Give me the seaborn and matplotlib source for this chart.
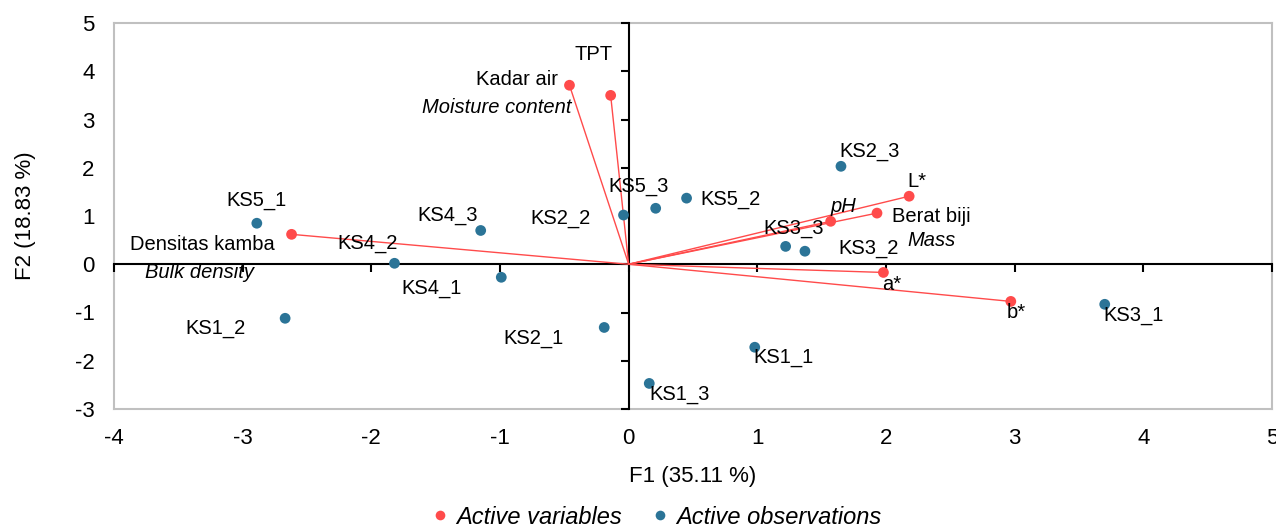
import matplotlib
matplotlib.use("Agg")
import matplotlib.pyplot as plt
import seaborn as sns
import pandas as pd

# Variables (vectors)
var_names = ["Kadar air", "TPT", "Densitas kamba", "pH", "L*", "Berat biji", "a*", "b*"]
var_f1 = [-0.46, -0.14, -2.62, 1.57, 2.18, 1.93, 1.98, 2.97]
var_f2 = [3.71, 3.50, 0.62, 0.89, 1.41, 1.06, -0.17, -0.77]

# Observations
obs_names = ["KS5_1", "KS4_2", "KS4_3", "KS4_1", "KS1_2", "KS2_2", "KS5_3", "KS5_2",
             "KS2_1", "KS1_3", "KS1_1", "KS3_3", "KS3_2", "KS2_3", "KS3_1"]
obs_f1 = [-2.89, -1.82, -1.15, -0.99, -2.67, -0.04, 0.21, 0.45,
          -0.19, 0.16, 0.98, 1.22, 1.37, 1.65, 3.70]
obs_f2 = [0.85, 0.02, 0.70, -0.27, -1.12, 1.02, 1.16, 1.37,
          -1.31, -2.47, -1.72, 0.37, 0.27, 2.03, -0.83]

# English subtitles (italic) for some variables
var_sub = {"Kadar air": "Moisture content", "Densitas kamba": "Bulk density",
           "Berat biji": "Mass"}

RED = "#FF4B4B"
BLUE = "#2B7497"

df_var = pd.DataFrame({"F1": var_f1, "F2": var_f2, "name": var_names,
                       "kind": "Active variables"})
df_obs = pd.DataFrame({"F1": obs_f1, "F2": obs_f2, "name": obs_names,
                       "kind": "Active observations"})
df = pd.concat([df_var, df_obs], ignore_index=True)

sns.set_theme(style="white")
plt.rcParams["font.family"] = ["Liberation Sans", "DejaVu Sans"]
plt.rcParams["axes.unicode_minus"] = False
plt.rcParams["text.color"] = "black"
plt.rcParams["axes.labelcolor"] = "black"

fig = plt.figure(figsize=(12.76, 5.29), dpi=100)
rect = [114 / 1276, 1 - 409 / 529, (1272 - 114) / 1276, (409 - 23) / 529]

# outer frame with tick labels
ax = fig.add_axes(rect)
ax.set_xlim(-4, 5)
ax.set_ylim(-3, 5)
ax.set_xticks(range(-4, 6))
ax.set_yticks(range(-3, 6))
ax.tick_params(length=0, labelsize=16, colors="black", pad=14)
ax.tick_params(axis="y", pad=14)
for s in ax.spines.values():
    s.set_color("#C0C0C0")
    s.set_linewidth(1.5)
ax.set_xlabel("F1 (35.11 %)", fontsize=16, labelpad=12)
ax.set_ylabel("F2 (18.83 %)", fontsize=16, labelpad=28)

# inner axes crossing at the origin
ax2 = fig.add_axes(rect, sharex=ax, sharey=ax)
ax2.patch.set_alpha(0)
ax2.spines["left"].set_position(("data", 0))
ax2.spines["bottom"].set_position(("data", 0))
ax2.spines["top"].set_visible(False)
ax2.spines["right"].set_visible(False)
for side in ["left", "bottom"]:
    ax2.spines[side].set_color("black")
    ax2.spines[side].set_linewidth(1.5)
ax2.tick_params(direction="out", length=6, width=1.5, colors="black",
                labelleft=False, labelbottom=False, left=True, bottom=True)

# vectors from origin
for x, y in zip(var_f1, var_f2):
    ax2.plot([0, x], [0, y], color=RED, lw=1, zorder=3)

sns.scatterplot(data=df, x="F1", y="F2", hue="kind", ax=ax2,
                palette={"Active variables": RED, "Active observations": BLUE},
                s=60, edgecolor="none", zorder=4, legend=True)
ax2.set_xlabel("")
ax2.set_ylabel("")

# label offsets in pixels (dx, dy, ha)
lab_off = {
    "Kadar air": (-11, 6, "right"), "TPT": (-17, 41, "center"),
    "Densitas kamba": (-89, -10, "center"), "pH": (13, 15, "center"),
    "L*": (8, 15, "center"), "Berat biji": (15, -3, "left"),
    "a*": (8, -12, "center"), "b*": (5, -11, "center"),
    "KS5_1": (0, 23, "center"), "KS4_2": (-27, 20, "center"),
    "KS4_3": (-33, 15, "center"), "KS4_1": (-70, -11, "center"),
    "KS1_2": (-70, -10, "center"), "KS2_2": (-63, -3, "center"),
    "KS5_3": (-17, 22, "center"), "KS5_2": (44, -1, "center"),
    "KS2_1": (-71, -11, "center"), "KS1_3": (30, -11, "center"),
    "KS1_1": (29, -10, "center"), "KS3_3": (8, 18, "center"),
    "KS3_2": (64, 3, "center"), "KS2_3": (29, 15, "center"),
    "KS3_1": (29, -11, "center"),
}
sub_off = {"Kadar air": (2, -22, "right"), "Densitas kamba": (-92, -38, "center"),
           "Berat biji": (55, -27, "center")}

for _, r in df.iterrows():
    dx, dy, ha = lab_off[r["name"]]
    style = "italic" if r["name"] == "pH" else "normal"
    ax2.annotate(r["name"], (r["F1"], r["F2"]), xytext=(dx, dy),
                 textcoords="offset pixels", ha=ha, va="center",
                 fontsize=14.5, fontstyle=style, zorder=5)
    if r["name"] in var_sub:
        sx, sy, sha = sub_off[r["name"]]
        ax2.annotate(var_sub[r["name"]], (r["F1"], r["F2"]), xytext=(sx, sy),
                     textcoords="offset pixels", ha=sha, va="center",
                     fontsize=14.5, fontstyle="italic", zorder=5)

handles, labels = ax2.get_legend_handles_labels()
ax2.get_legend().remove()
leg = fig.legend(handles, labels, loc="center", bbox_to_anchor=(656 / 1276, 1 - 517 / 529),
                 ncol=2, frameon=False, handletextpad=0.3, handlelength=0.8,
                 columnspacing=1.2, markerscale=0.9,
                 prop={"size": 17, "style": "italic"})

fig.savefig("out.png", dpi=100)
